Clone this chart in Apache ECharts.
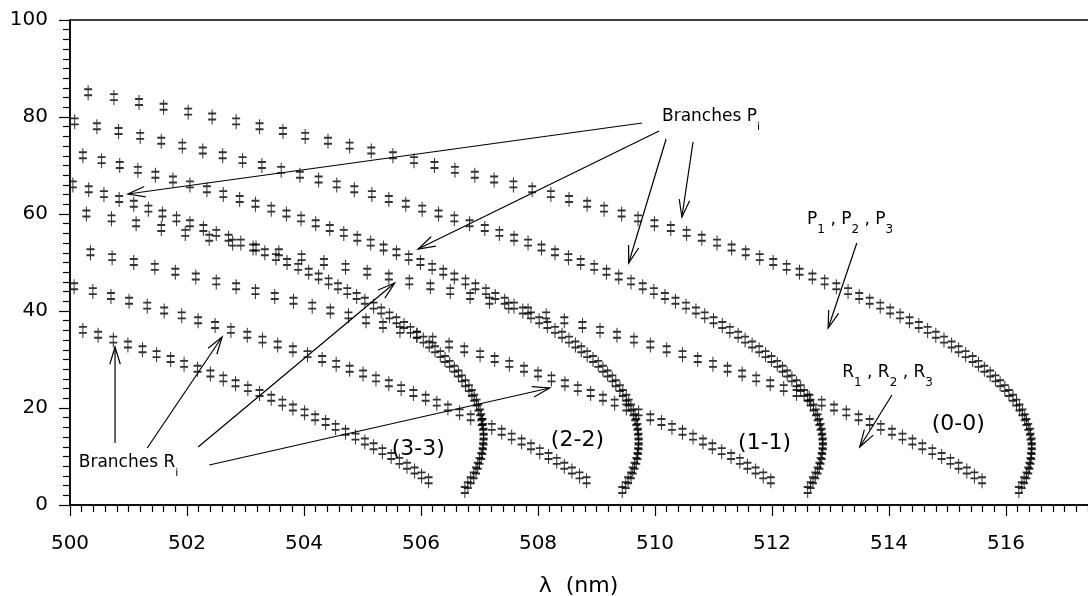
<!DOCTYPE html>
<html><head><meta charset="utf-8">
<script src="https://cdn.jsdelivr.net/npm/echarts@6/dist/echarts.min.js"></script>
<style>html,body{margin:0;padding:0;background:#fff}#c{width:1088px;height:596px}</style>
</head><body><div id="c"></div>
<script>
// ---- data: wavelength (nm) of each line, J'' counted from the start value ----
const jStartP = 3;
const jStartR = 5;
const lambdaP00 = [516.22,516.27,516.31,516.35,516.38,516.40,516.42,516.43,516.44,516.44,516.44,516.42,516.41,516.38,516.35,516.32,516.28,516.23,516.18,516.12,516.05,515.98,515.90,515.82,515.73,515.63,515.53,515.43,515.31,515.19,515.07,514.94,514.80,514.66,514.51,514.35,514.19,514.02,513.85,513.67,513.49,513.30,513.10,512.90,512.69,512.47,512.25,512.02,511.79,511.55,511.31,511.06,510.80,510.54,510.27,509.99,509.71,509.43,509.13,508.84,508.53,508.22,507.90,507.58,507.25,506.92,506.58,506.23,505.88,505.52,505.15,504.78,504.41,504.02,503.64,503.24,502.84,502.43,502.02,501.60,501.18,500.75,500.31];
const lambdaR00 = [515.59,515.46,515.33,515.19,515.05,514.90,514.74,514.57,514.40,514.23,514.05,513.86,513.67,513.48,513.27,513.06,512.85,512.64,512.42,512.20,511.97,511.73,511.49,511.24,510.99,510.73,510.47,510.20,509.92,509.64,509.35,509.06,508.76,508.45,508.14,507.83,507.50,507.17,506.84,506.50,506.16,505.80,505.45,505.08,504.71,504.34,503.96,503.57,503.18,502.78,502.38,501.97,501.56,501.13,500.71,500.28];
const lambdaP11 = [512.61,512.66,512.70,512.74,512.78,512.81,512.83,512.85,512.86,512.87,512.87,512.86,512.85,512.83,512.81,512.78,512.75,512.71,512.66,512.61,512.55,512.49,512.42,512.34,512.26,512.18,512.09,511.99,511.89,511.78,511.66,511.54,511.42,511.28,511.15,511.00,510.85,510.70,510.53,510.35,510.17,509.98,509.79,509.59,509.38,509.17,508.96,508.73,508.52,508.29,508.06,507.83,507.59,507.34,507.09,506.83,506.57,506.30,506.02,505.74,505.45,505.16,504.86,504.56,504.25,503.93,503.61,503.28,502.95,502.61,502.27,501.92,501.56,501.20,500.83,500.46,500.08];
const lambdaR11 = [511.98,511.85,511.72,511.58,511.45,511.30,511.14,510.98,510.82,510.65,510.47,510.29,510.11,509.92,509.72,509.51,509.31,509.11,508.90,508.68,508.46,508.23,508.00,507.76,507.51,507.26,507.01,506.74,506.48,506.20,505.93,505.64,505.35,505.06,504.76,504.45,504.14,503.82,503.50,503.17,502.84,502.50,502.15,501.80,501.45,501.09,500.72,500.35];
const lambdaP22 = [509.44,509.50,509.54,509.59,509.62,509.65,509.68,509.70,509.71,509.72,509.72,509.72,509.71,509.70,509.68,509.66,509.63,509.59,509.55,509.51,509.45,509.40,509.33,509.27,509.19,509.11,509.03,508.94,508.84,508.74,508.64,508.53,508.41,508.29,508.16,508.02,507.88,507.74,507.59,507.43,507.27,507.11,506.93,506.76,506.57,506.38,506.19,505.99,505.79,505.58,505.36,505.14,504.91,504.68,504.44,504.20,503.95,503.70,503.44,503.17,502.90,502.62,502.34,502.05,501.76,501.46,501.16,500.85,500.54,500.22];
const lambdaR22 = [508.83,508.71,508.58,508.45,508.32,508.18,508.03,507.88,507.72,507.55,507.38,507.21,507.04,506.85,506.66,506.46,506.27,506.08,505.87,505.66,505.45,505.23,505.01,504.78,504.55,504.31,504.06,503.81,503.55,503.29,503.03,502.75,502.48,502.19,501.91,501.61,501.32,501.01,500.70,500.39,500.07];
const lambdaP33 = [506.75,506.80,506.85,506.90,506.94,506.97,507.00,507.03,507.05,507.06,507.07,507.07,507.07,507.06,507.05,507.03,507.01,506.98,506.95,506.91,506.87,506.82,506.76,506.70,506.64,506.57,506.49,506.41,506.33,506.24,506.14,506.04,505.93,505.82,505.71,505.58,505.46,505.32,505.19,505.04,504.90,504.74,504.58,504.42,504.25,504.08,503.90,503.71,503.52,503.33,503.13,502.92,502.71,502.50,502.28,502.05,501.82,501.58,501.34,501.09,500.84,500.58,500.32,500.05];
const lambdaR33 = [506.13,506.01,505.89,505.76,505.63,505.49,505.34,505.19,505.04,504.88,504.71,504.54,504.37,504.19,504.01,503.81,503.63,503.44,503.24,503.04,502.83,502.62,502.40,502.18,501.95,501.72,501.48,501.24,500.99,500.74,500.48,500.22];
const branchNames = ['(0-0) P','(0-0) R','(1-1) P','(1-1) R','(2-2) P','(2-2) R','(3-3) P','(3-3) R'];

// ---- annotations (data units) ----
const annotArrows = [
  [509.78,78.76, 500.99,64.12],
  [510.07,77.11, 505.95,52.78],
  [510.19,75.46, 509.55,49.90],
  [510.65,74.85, 510.46,59.38],
  [513.45,54.02, 512.96,36.49],
  [514.05,22.68, 513.50,11.96],
  [500.77,12.78, 500.77,32.58],
  [501.32,11.75, 502.60,34.64],
  [502.19,11.96, 505.55,45.77],
  [502.38,8.25,  508.20,24.12]
];
const annotTexts = [
  {at:[510.12,80.0],  parts:[['Branches P',17,0],['i',11,10]]},
  {at:[512.60,58.87], parts:[['P',17,0],['1',12,10],[' , P',17,0],['2',12,10],[' , P',17,0],['3',12,10]]},
  {at:[513.20,27.32], parts:[['R',17,0],['1',12,10],[' , R',17,0],['2',12,10],[' , R',17,0],['3',12,10]]},
  {at:[500.15,8.66],  parts:[['Branches R',17,0],['i',11,10]]},
  {at:[505.50,11.55], parts:[['(3-3)',22,0]]},
  {at:[508.22,13.40], parts:[['(2-2)',22,0]]},
  {at:[511.42,12.78], parts:[['(1-1)',22,0]]},
  {at:[514.73,16.70], parts:[['(0-0)',22,0]]}
];

const FONT = 'DejaVu Sans';
const GLYPH = 'path://M4,0L4,15M0,4L8,4M0,10L8,10';
const branches = [
  [lambdaP00, jStartP],[lambdaR00, jStartR],[lambdaP11, jStartP],[lambdaR11, jStartR],
  [lambdaP22, jStartP],[lambdaR22, jStartR],[lambdaP33, jStartP],[lambdaR33, jStartR]
];
function pairs(arr, j0){ return arr.map((x,i)=>[x, j0+i]); }

const chart = echarts.init(document.getElementById('c'), null, {renderer:'canvas'});
const axisCommon = {
  axisLine:{show:true, onZero:false, lineStyle:{color:'#000', width:1.5}},
  axisTick:{show:true, inside:false, length:11, lineStyle:{color:'#000', width:1.2}},
  minorTick:{show:true, splitNumber:10, length:7, lineStyle:{color:'#000', width:1.2}},
  splitLine:{show:false}, minorSplitLine:{show:false}
};
chart.setOption({
  animation:false,
  backgroundColor:'#fff',
  grid:{left:70, top:20, width:1053, height:485, outerBoundsMode:'none', containLabel:false,
        show:true, borderColor:'#000', borderWidth:1.5, backgroundColor:'transparent'},
  xAxis:Object.assign({type:'value', min:500, max:518, interval:2,
    name:'λ  (nm)', nameLocation:'middle', nameGap:70,
    nameTextStyle:{fontFamily:FONT, fontSize:22, color:'#000', padding:[0,36,0,0]},
    axisLabel:{margin:29, fontFamily:FONT, fontSize:20, color:'#000', showMaxLabel:false}}, axisCommon),
  yAxis:Object.assign({type:'value', min:0, max:100, interval:20,
    axisLabel:{margin:22, fontFamily:FONT, fontSize:20, color:'#000'}}, axisCommon),
  series: branches.map((b,k)=>({
    type:'scatter', name:branchNames[k], data:pairs(b[0], b[1]),
    symbol:GLYPH, symbolSize:[8,15],
    itemStyle:{color:'#000', borderColor:'#000', borderWidth:1.4},
    emphasis:{disabled:true}, silent:true, clip:true
  }))
});

const P = (x,y)=>chart.convertToPixel({xAxisIndex:0, yAxisIndex:0}, [x,y]);
const els = [];
annotArrows.forEach(a=>{
  const s = P(a[0],a[1]), t = P(a[2],a[3]);
  els.push({type:'line', shape:{x1:s[0],y1:s[1],x2:t[0],y2:t[1]}, style:{stroke:'#000', lineWidth:1.2}, silent:true});
  const dx=t[0]-s[0], dy=t[1]-s[1], L=Math.hypot(dx,dy), ux=dx/L, uy=dy/L;
  const hl=18, ang=17*Math.PI/180, c=Math.cos(ang), sn=Math.sin(ang);
  const h1=[t[0]-hl*(ux*c-uy*sn), t[1]-hl*(uy*c+ux*sn)];
  const h2=[t[0]-hl*(ux*c+uy*sn), t[1]-hl*(uy*c-ux*sn)];
  els.push({type:'polyline', shape:{points:[h1,[t[0],t[1]],h2]}, style:{stroke:'#000', fill:null, lineWidth:1.2}, silent:true});
});
const mctx = document.createElement('canvas').getContext('2d');
function tw(t,size){ mctx.font = size+'px "'+FONT+'"'; return mctx.measureText(t).width; }
annotTexts.forEach(a=>{
  let [x,y] = P(a.at[0], a.at[1]);
  a.parts.forEach(p=>{
    els.push({type:'text', x:x, y:y+p[2], silent:true,
      style:{text:p[0], fontSize:p[1], fontFamily:FONT, fill:'#000',
             align:'left', verticalAlign:'middle', textAlign:'left', textVerticalAlign:'middle'}});
    x += tw(p[0], p[1]);
  });
});
chart.setOption({graphic:{elements:els}});
</script>
</body></html>
